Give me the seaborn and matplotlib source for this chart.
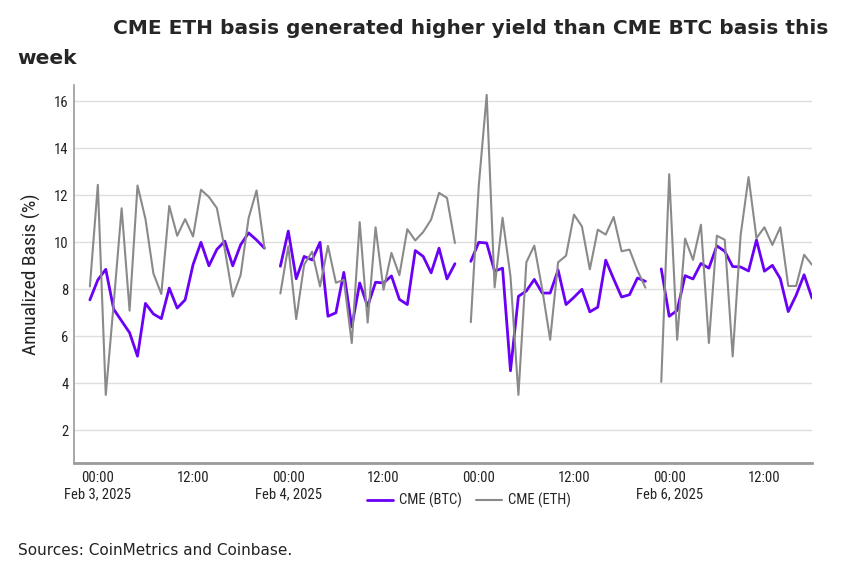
import pandas as pd
import numpy as np
import matplotlib
matplotlib.use("Agg")
import matplotlib.pyplot as plt
import matplotlib.dates as mdates
from matplotlib import font_manager
import seaborn as sns

# hourly CME basis, one block per trading session (23:00 -> 21:00 UTC)
session_starts = ["2025-02-02 23:00", "2025-02-03 23:00", "2025-02-04 23:00", "2025-02-05 23:00"]

btc_s1 = [7.55, 8.4, 8.85, 7.15, 6.65, 6.15, 5.15, 7.4, 6.95, 6.75, 8.05, 7.2, 7.55, 9.05, 10.0, 9.0, 9.7, 10.05, 9.0, 9.9, 10.4, 10.1, 9.75]
btc_s2 = [8.98, 10.48, 8.45, 9.4, 9.25, 10.0, 6.85, 7.0, 8.72, 6.4, 8.27, 7.27, 8.3, 8.27, 8.57, 7.57, 7.35, 9.65, 9.4, 8.7, 9.75, 8.44, 9.09]
btc_s3 = [9.19, 10.0, 9.97, 8.77, 8.9, 4.53, 7.7, 7.93, 8.42, 7.84, 7.84, 8.82, 7.35, 7.66, 8.0, 7.04, 7.24, 9.24, 8.44, 7.67, 7.77, 8.48, 8.34]
btc_s4 = [8.87, 6.85, 7.1, 8.58, 8.44, 9.1, 8.9, 9.85, 9.62, 8.97, 8.95, 8.78, 10.1, 8.77, 9.02, 8.45, 7.05, 7.75, 8.62, 7.62]

eth_s1 = [8.12, 12.45, 3.5, 7.4, 11.45, 7.09, 12.42, 11.0, 8.68, 7.8, 11.55, 10.28, 10.99, 10.25, 12.24, 11.93, 11.46, 9.7, 7.69, 8.61, 11.03, 12.21, 9.75]
eth_s2 = [7.82, 9.83, 6.73, 9.05, 9.6, 8.12, 9.85, 8.28, 8.4, 5.71, 10.86, 6.58, 10.64, 7.98, 9.55, 8.6, 10.56, 10.08, 10.44, 10.97, 12.11, 11.89, 9.97]
eth_s3 = [6.6, 12.4, 16.28, 8.08, 11.05, 8.55, 3.5, 9.15, 9.86, 8.0, 5.85, 9.15, 9.43, 11.18, 10.68, 8.85, 10.54, 10.33, 11.08, 9.62, 9.69, 8.8, 8.07]
eth_s4 = [4.06, 12.9, 5.85, 10.16, 9.25, 10.75, 5.71, 10.28, 10.11, 5.14, 10.3, 12.78, 10.18, 10.64, 9.89, 10.64, 8.14, 8.14, 9.47, 9.04]

tick_times = ["2025-02-03 00:00", "2025-02-03 12:00", "2025-02-04 00:00", "2025-02-04 12:00",
              "2025-02-05 00:00", "2025-02-05 12:00", "2025-02-06 00:00", "2025-02-06 12:00"]
tick_labels = ["00:00\nFeb 3, 2025", "12:00", "00:00\nFeb 4, 2025", "12:00",
               "00:00", "12:00", "00:00\nFeb 6, 2025", "12:00"]

btc_sessions = [btc_s1, btc_s2, btc_s3, btc_s4]
eth_sessions = [eth_s1, eth_s2, eth_s3, eth_s4]

rows = []
for i, start in enumerate(session_starts):
    for name, vals in [("CME (BTC)", btc_sessions[i]), ("CME (ETH)", eth_sessions[i])]:
        times = pd.date_range(start, periods=len(vals), freq="h")
        rows.append(pd.DataFrame({"time": times, "basis": vals, "series": name, "session": i}))
df = pd.concat(rows, ignore_index=True)

# narrow font for axis text if one is around
installed = {f.name for f in font_manager.fontManager.ttflist}
narrow = "DejaVu Sans"
for cand in ["Liberation Sans Narrow", "DejaVu Sans Condensed", "Roboto Condensed", "Open Sans Condensed"]:
    if cand in installed:
        narrow = cand
        break

sns.set_style("white")
plt.rcParams["font.family"] = [narrow, "DejaVu Sans"]

fig = plt.figure(figsize=(8.45, 5.65), dpi=100)
ax = fig.add_axes([0.0876, 0.1805, 0.8734, 0.669])

sns.lineplot(data=df, x="time", y="basis", hue="series", size="series", units="session",
             estimator=None, palette={"CME (BTC)": "#6a00f5", "CME (ETH)": "#8a8a8a"},
             sizes={"CME (BTC)": 2.0, "CME (ETH)": 1.5}, ax=ax)

ax.set_ylim(0.6, 16.7)
ax.set_yticks([2, 4, 6, 8, 10, 12, 14, 16])
ax.yaxis.grid(True, color="#dedede", linewidth=1)
ax.set_xlim(pd.Timestamp("2025-02-02 21:00"), pd.Timestamp("2025-02-06 18:00"))
ax.set_xticks(mdates.date2num(pd.to_datetime(tick_times)))
ax.set_xticklabels(tick_labels, fontsize=10.5, color="#222222")
ax.tick_params(axis="both", length=0, pad=6)
ax.tick_params(axis="y", labelsize=10.5, labelcolor="#222222", pad=4)
ax.set_xlabel("")
ax.set_ylabel("Annualized Basis (%)", fontsize=14, color="#222222", labelpad=9)

for s in ["top", "right"]:
    ax.spines[s].set_visible(False)
ax.spines["left"].set_color("#9a9a9a")
ax.spines["left"].set_linewidth(1.2)
ax.spines["bottom"].set_color("#9a9a9a")
ax.spines["bottom"].set_linewidth(2)

sns.move_legend(ax, "center", bbox_to_anchor=(0.535, -0.1), ncol=2, frameon=False,
                title=None, fontsize=10.5, handlelength=1.8, columnspacing=1.0, handletextpad=0.4)

fig.text(0.134, 0.95, "CME ETH basis generated higher yield than CME BTC basis this",
         fontsize=14.5, fontweight="bold", family="DejaVu Sans", va="center")
fig.text(0.021, 0.897, "week", fontsize=14.5, fontweight="bold", family="DejaVu Sans", va="center")
fig.text(0.021, 0.025, "Sources: CoinMetrics and Coinbase.", fontsize=11, family="DejaVu Sans",
         color="#222222", va="center")

fig.savefig("out.png", dpi=100)
